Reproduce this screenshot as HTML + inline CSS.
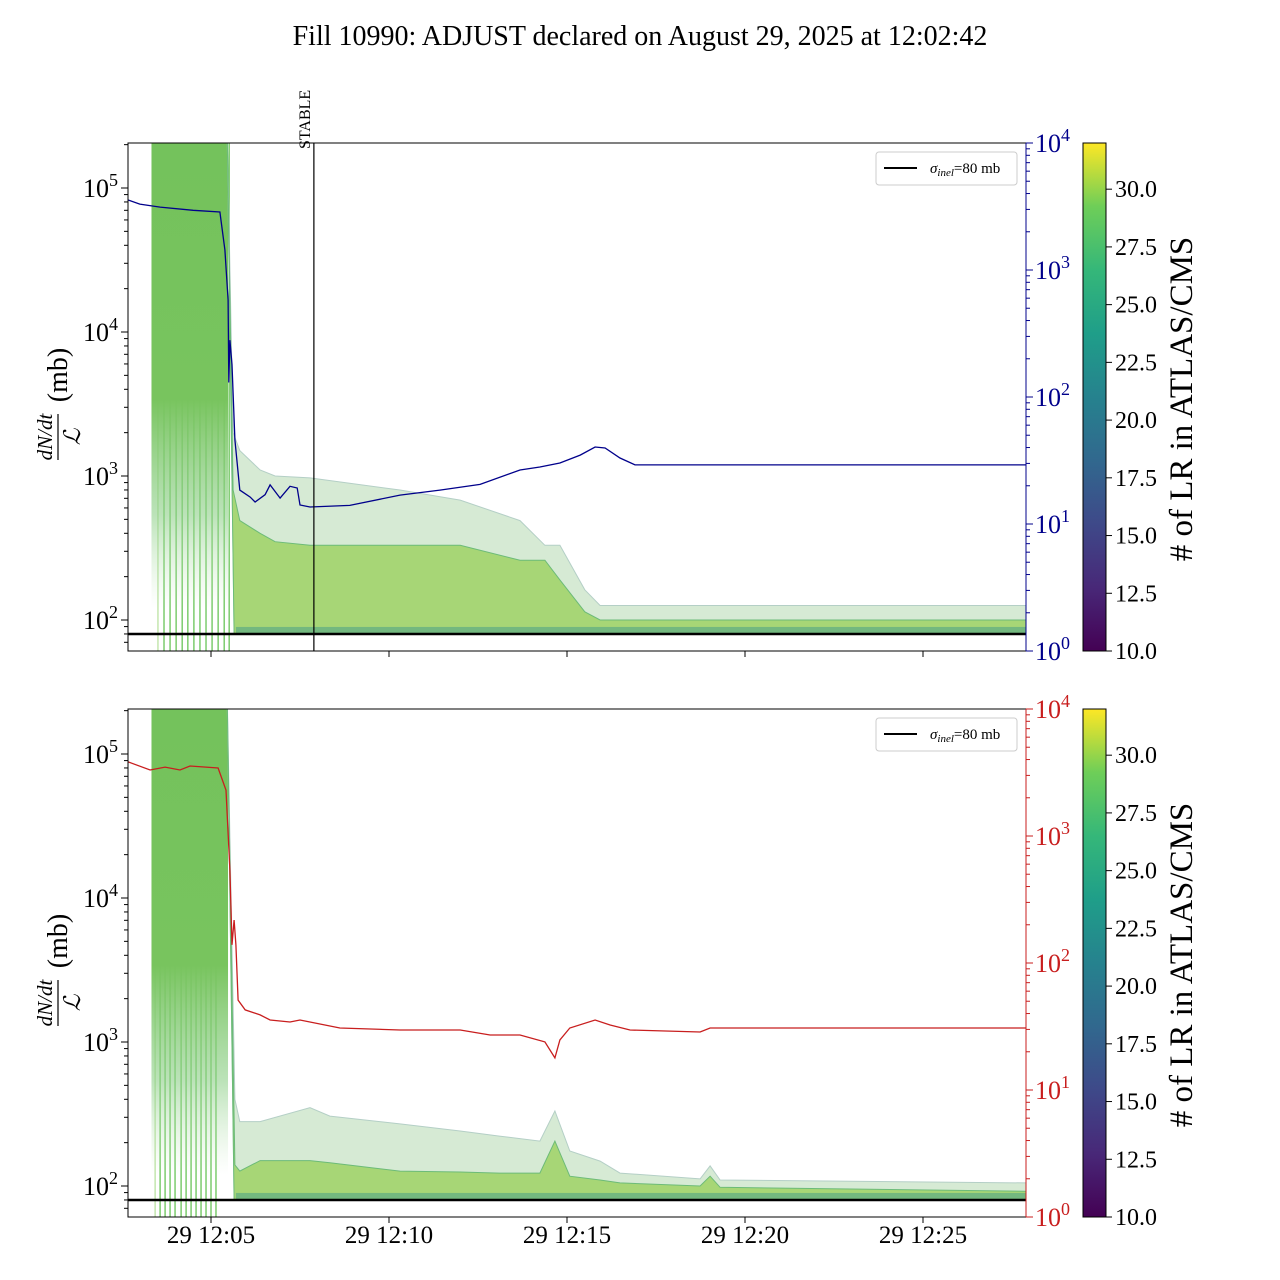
<!DOCTYPE html>
<html><head><meta charset="utf-8"><style>
html,body{margin:0;padding:0;background:#fff;}
svg{display:block;font-family:"Liberation Serif",serif;}
</style></head><body>
<svg id="chart" width="1280" height="1280" viewBox="0 0 1280 1280" xmlns="http://www.w3.org/2000/svg">
<defs>
<linearGradient id="viridis" x1="0" y1="1" x2="0" y2="0">
<stop offset="0" stop-color="#440154"/><stop offset="0.125" stop-color="#482878"/><stop offset="0.25" stop-color="#3e4989"/><stop offset="0.375" stop-color="#31688e"/><stop offset="0.5" stop-color="#26828e"/><stop offset="0.625" stop-color="#1f9e89"/><stop offset="0.75" stop-color="#35b779"/><stop offset="0.875" stop-color="#6ece58"/><stop offset="1" stop-color="#fde725"/>
</linearGradient>
<linearGradient id="blockfade" x1="0" y1="0" x2="0" y2="1">
<stop offset="0" stop-color="#74c25c"/><stop offset="0.55" stop-color="#78c45e"/><stop offset="0.8" stop-color="#8fd08a" stop-opacity="0.6"/><stop offset="1" stop-color="#bfe4b8" stop-opacity="0"/>
</linearGradient>
<clipPath id="clip0"><rect x="128" y="143" width="898" height="508"/></clipPath>
<clipPath id="clip1"><rect x="128" y="709" width="898" height="508"/></clipPath>
</defs>
<text x="640" y="45" font-size="28" text-anchor="middle">Fill 10990: ADJUST declared on August 29, 2025 at 12:02:42</text>
<g id="root"></g>
</svg>
<script>
// ---- data (minutes after 12:00, values) ----
const xTickTimes = [5, 10, 15, 20, 25];
const xTickLabels = ["29 12:05", "29 12:10", "29 12:15", "29 12:20", "29 12:25"];
const leftTicks = [100, 1000, 10000, 100000];
const leftTickExp = ["2", "3", "4", "5"];
const rightTicks = [1, 10, 100, 1000, 10000];
const rightTickExp = ["0", "1", "2", "3", "4"];
const cbarTicks = [10, 12.5, 15, 17.5, 20, 22.5, 25, 27.5, 30];
const sigmaInel = 80;
const stableTime = 7.89;

const topVlineTimes = [3.51,3.68,3.85,4.02,4.19,4.35,4.52,4.69,4.86,5.03,5.20,5.37,5.51];
const botVlineTimes = [3.43,3.57,3.71,3.85,3.99,4.16,4.30,4.44,4.58,4.72,4.86,5.0,5.14];

const topBandTimes = [3.3,5.45,5.62,5.81,6.38,6.80,7.78,10.31,12.0,13.68,14.38,14.80,15.5,15.93,27.9];
const topBandUpper = [300000,300000,2000,1500,1100,1000,970,800,680,490,330,330,162,126,126];
const topBandDense = [300000,300000,800,490,400,350,330,330,330,260,260,190,114,100,100];

const botBandTimes = [3.3,5.45,5.67,5.81,6.38,7.78,8.34,10.31,12.0,13.1,14.24,14.66,15.08,15.93,16.49,18.74,19.02,19.3,27.9];
const botBandUpper = [300000,300000,400,280,280,350,306,270,241,222,205,332,175,149,123,112,138,110,105];
const botBandDense = [300000,300000,140,127,150,150,145,127,125,123,123,205,117,110,105,100,117,98,92];

const blueTimes = [2.67,3.0,3.57,4.5,5.25,5.39,5.48,5.5,5.53,5.59,5.67,5.81,6.10,6.24,6.52,6.66,6.94,7.22,7.42,7.50,7.78,8.90,10.31,11.43,12.56,13.68,14.24,14.80,15.37,15.79,16.07,16.49,16.91,18.74,27.9];
const blueValues = [3560,3300,3130,2950,2860,1440,580,130,280,180,46,18.5,16.3,14.9,17,20.3,16,19.8,19.2,14.1,13.6,14,16.9,18.5,20.5,26.6,28.1,30.2,34.9,40.4,39.7,33.1,29.2,29.2,29.2];

const redTimes = [2.67,3.29,3.71,4.13,4.41,5.2,5.42,5.53,5.59,5.65,5.70,5.76,5.96,6.38,6.66,7.22,7.50,8.62,10.31,12.0,12.84,13.68,14.38,14.66,14.80,15.08,15.79,16.21,16.77,18.74,19.02,27.9];
const redValues = [3830,3310,3490,3310,3560,3430,2300,540,139,218,139,51,42.7,39,35.6,34.3,35.6,30.8,29.7,29.7,27.1,27.1,23.9,17.9,24.8,30.8,35.6,32.5,29.7,28.6,30.8,30.8];

// ---- geometry ----
const NS = "http://www.w3.org/2000/svg";
const X0 = 128, X1 = 1026;
const xs = t => 211 + (t - 5) * 35.6;
function mk(tag, attrs, parent) {
  const e = document.createElementNS(NS, tag);
  for (const k in attrs) e.setAttribute(k, attrs[k]);
  parent.appendChild(e);
  return e;
}
const root = document.getElementById('root');

function panel(idx, top, bandT, bandU, bandD, vT, lineT, lineV, lineColor, stable) {
  const bot = top + 508;
  const yL = v => top + 45 + (5 - Math.log10(v)) * 144;
  const yR = v => top + (4 - Math.log10(v)) * 127;
  const g = mk('g', {}, root);
  
  
  const pl = mk('g', {'clip-path': 'url(#clip' + idx + ')'}, g);

  vT.forEach((t, i) => {
    const l = mk('line', {x1: xs(t), x2: xs(t), y1: top, y2: bot, stroke: i === 0 ? '#b5e09a' : '#5cbf4a', 'stroke-width': 1.2}, pl);
    
    
  });
  const blk = mk('rect', {x: xs(bandT[0]) + 1, y: top, width: xs(bandT[1]) - xs(bandT[0]), height: yL(120) - top, fill: 'url(#blockfade)'}, pl);
  
  

  function bandPath(arr, from) {
    let d = '';
    for (let i = from; i < bandT.length; i++) d += (i === from ? 'M' : 'L') + xs(bandT[i]).toFixed(1) + ',' + yL(arr[i]).toFixed(1);
    d += 'L' + xs(bandT[bandT.length - 1]).toFixed(1) + ',' + yL(sigmaInel) + 'L' + xs(bandT[from] + 0.2).toFixed(1) + ',' + yL(sigmaInel) + 'Z';
    return d;
  }
  const outer = mk('path', {d: bandPath(bandU, 1), fill: '#cfe6cc', 'fill-opacity': 0.85, stroke: '#b4cfc6', 'stroke-width': 1}, pl);
  
  
  const dense = mk('path', {d: bandPath(bandD, 1), fill: '#a2d46c', 'fill-opacity': 0.9, stroke: '#6cbb78', 'stroke-width': 1}, pl);
  
  
  const strip = mk('rect', {x: xs(5.7), y: yL(sigmaInel) - 7, width: X1 - xs(5.7), height: 7, fill: '#3f9a88', 'fill-opacity': 0.5}, pl);
  
  

  const sl = mk('line', {x1: X0, x2: X1, y1: yL(sigmaInel), y2: yL(sigmaInel), stroke: '#000', 'stroke-width': 2.5}, pl);
  
  

  let d = '';
  lineT.forEach((t, i) => d += (i ? 'L' : 'M') + xs(t).toFixed(1) + ',' + yR(lineV[i]).toFixed(1));
  const pth = mk('path', {d: d, fill: 'none', stroke: lineColor, 'stroke-width': 1.3}, pl);
  
  

  if (stable) {
    const st = mk('line', {x1: xs(stableTime), x2: xs(stableTime), y1: top, y2: bot, stroke: '#000', 'stroke-width': 1.2}, g);
    
    
    const stt = mk('text', {x: 0, y: 0, 'font-size': 16, transform: 'translate(' + (xs(stableTime) - 4) + ',' + (top + 6) + ') rotate(-90)'}, g);
    stt.textContent = 'STABLE';
    
    
  }

  const fr = mk('rect', {x: X0, y: top, width: X1 - X0, height: 508, fill: 'none', stroke: '#000', 'stroke-width': 1}, g);
  
  

  for (let e = 1; e <= 5; e++) for (let m = 1; m <= 9; m++) {
    const v = m * Math.pow(10, e), y = yL(v);
    if (y < top || y > bot) continue;
    mk('line', {x1: X0, x2: X0 - (m === 1 ? 7 : 4), y1: y, y2: y, stroke: '#000', 'stroke-width': 1}, g);
  }
  leftTicks.forEach((v, i) => {
    const t = mk('text', {x: X0 - 10, y: yL(v) + 9, 'font-size': 26, 'text-anchor': 'end'}, g);
    
    
    t.innerHTML = '10<tspan dy="-11" font-size="18">' + leftTickExp[i] + '</tspan>';
  });
  const rc = lineColor;
  mk('line', {x1: X1, x2: X1, y1: top, y2: bot, stroke: rc, 'stroke-width': 1}, g);
  for (let e = 0; e <= 3; e++) for (let m = 1; m <= 9; m++) {
    const y = yR(m * Math.pow(10, e));
    mk('line', {x1: X1, x2: X1 + (m === 1 ? 7 : 4), y1: y, y2: y, stroke: rc, 'stroke-width': 1}, g);
  }
  rightTicks.forEach((v, i) => {
    const y = yR(v);
    mk('line', {x1: X1, x2: X1 + 7, y1: y, y2: y, stroke: rc}, g);
    const t = mk('text', {x: X1 + 9, y: y + 9, 'font-size': 26, fill: rc}, g);
    
    
    t.innerHTML = '10<tspan dy="-11" font-size="18">' + rightTickExp[i] + '</tspan>';
  });
  xTickTimes.forEach((tt, i) => {
    mk('line', {x1: xs(tt), x2: xs(tt), y1: bot, y2: bot + 6, stroke: '#000'}, g);
    if (idx === 1) {
      const t = mk('text', {x: xs(tt), y: bot + 26, 'font-size': 25, 'text-anchor': 'middle'}, g);
      t.textContent = xTickLabels[i];
      
      
    }
  });
  const yl = mk('g', {transform: 'translate(58,' + (top + 254) + ') rotate(-90)'}, g);
  
  
  mk('text', {x: -40, y: -6, 'font-size': 21, 'font-style': 'italic', 'text-anchor': 'middle'}, yl).textContent = 'dN/dt';
  mk('line', {x1: -63, x2: -17, y1: 0, y2: 0, stroke: '#000', 'stroke-width': 1.2}, yl);
  mk('text', {x: -40, y: 22, 'font-size': 23, 'font-style': 'italic', 'text-anchor': 'middle'}, yl).textContent = 'ℒ';
  mk('text', {x: 22, y: 9, 'font-size': 28, 'text-anchor': 'middle'}, yl).textContent = '(mb)';

  const lg = mk('g', {}, g);
  
  
  mk('rect', {x: 876, y: top + 9, width: 141, height: 33, rx: 3, fill: '#fff', stroke: '#ccc'}, lg);
  mk('line', {x1: 884, x2: 917, y1: top + 25, y2: top + 25, stroke: '#000', 'stroke-width': 2}, lg);
  const lt = mk('text', {x: 930, y: top + 30, 'font-size': 15}, lg);
  lt.innerHTML = '<tspan font-style="italic">σ</tspan><tspan font-size="11" dy="3" font-style="italic">inel</tspan><tspan dy="-3">=80 mb</tspan>';

  const cb = mk('g', {}, g);
  
  
  mk('rect', {x: 1083, y: top, width: 23, height: 508, fill: 'url(#viridis)', stroke: '#000', 'stroke-width': 1}, cb);
  const cy = v => bot - (v - 10) / 22 * 508;
  cbarTicks.forEach(v => {
    mk('line', {x1: 1106, x2: 1112, y1: cy(v), y2: cy(v), stroke: '#000'}, cb);
    const t = mk('text', {x: 1115, y: cy(v) + 8, 'font-size': 24}, cb);
    t.textContent = v.toFixed(1);
    
    
  });
  const ct = mk('text', {x: 0, y: 0, 'font-size': 33, 'text-anchor': 'middle', transform: 'translate(1192,' + (top + 256) + ') rotate(-90)'}, cb);
  ct.textContent = '# of LR in ATLAS/CMS';
  
  
}

panel(0, 143, topBandTimes, topBandUpper, topBandDense, topVlineTimes, blueTimes, blueValues, '#00008b', true);
panel(1, 709, botBandTimes, botBandUpper, botBandDense, botVlineTimes, redTimes, redValues, '#c81e1e', false);
</script>
</body></html>
